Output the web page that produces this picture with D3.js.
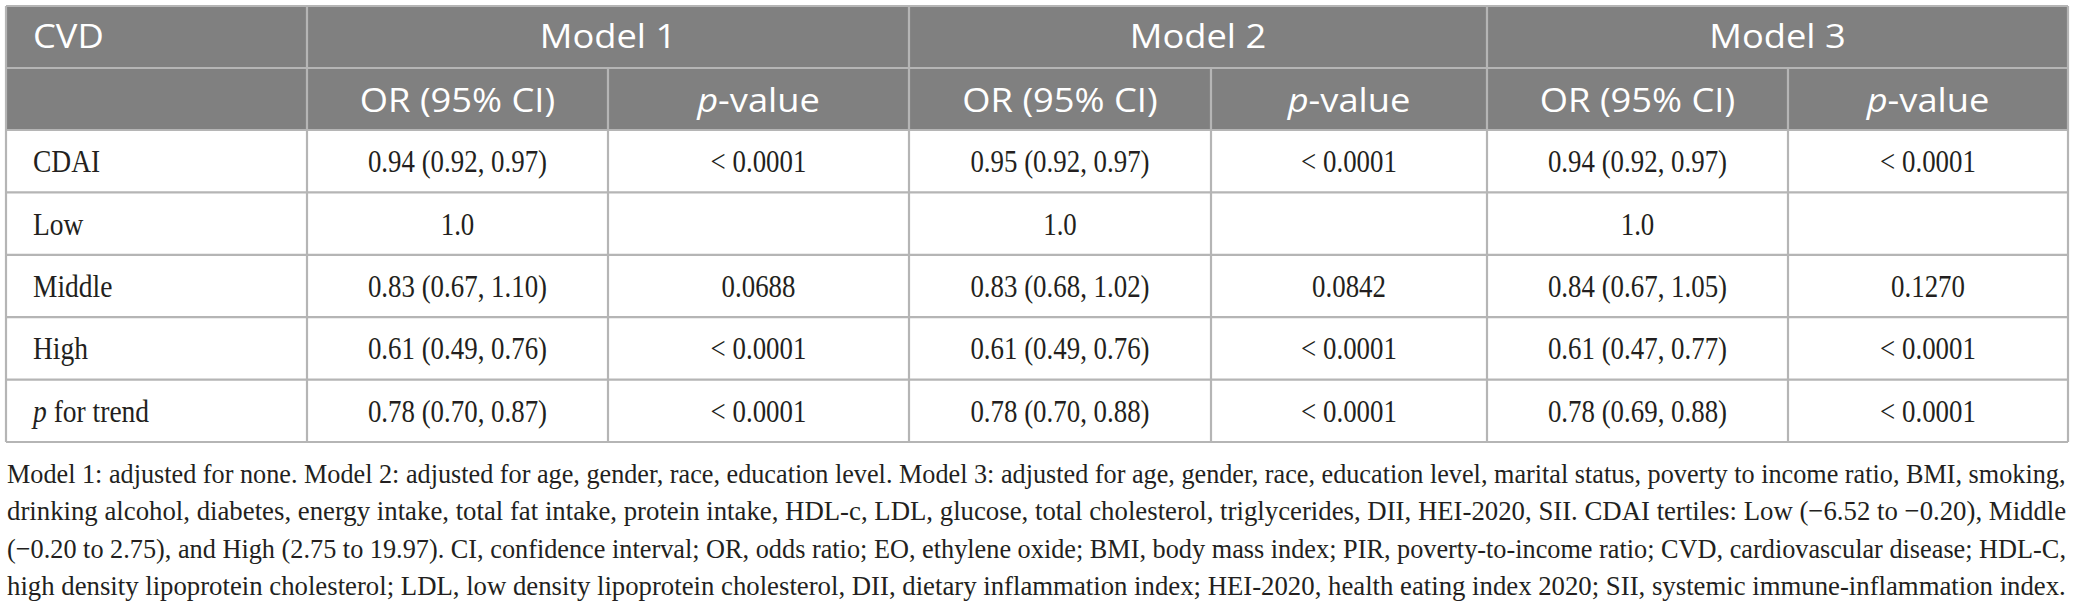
<!DOCTYPE html>
<html>
<head>
<meta charset="utf-8">
<script src="https://cdn.jsdelivr.net/npm/d3@7"></script>
<style>
  body { margin: 0; background: #fff; }
</style>
</head>
<body>
<div id="chart"></div>
<script>
// ---- table content ----
const ROW_LABELS  = ["CDAI", "Low", "Middle", "High", "p for trend"];
const MODELS      = ["Model 1", "Model 2", "Model 3"];
const SUB_HEADERS = ["OR (95% CI)", "p-value"];

const OR_M1 = ["0.94 (0.92, 0.97)", "1.0", "0.83 (0.67, 1.10)", "0.61 (0.49, 0.76)", "0.78 (0.70, 0.87)"];
const P_M1  = ["< 0.0001", "", "0.0688", "< 0.0001", "< 0.0001"];
const OR_M2 = ["0.95 (0.92, 0.97)", "1.0", "0.83 (0.68, 1.02)", "0.61 (0.49, 0.76)", "0.78 (0.70, 0.88)"];
const P_M2  = ["< 0.0001", "", "0.0842", "< 0.0001", "< 0.0001"];
const OR_M3 = ["0.94 (0.92, 0.97)", "1.0", "0.84 (0.67, 1.05)", "0.61 (0.47, 0.77)", "0.78 (0.69, 0.88)"];
const P_M3  = ["< 0.0001", "", "0.1270", "< 0.0001", "< 0.0001"];

const FOOTNOTE = [
  "Model 1: adjusted for none. Model 2: adjusted for age, gender, race, education level. Model 3: adjusted for age, gender, race, education level, marital status, poverty to income ratio, BMI, smoking,",
  "drinking alcohol, diabetes, energy intake, total fat intake, protein intake, HDL-c, LDL, glucose, total cholesterol, triglycerides, DII, HEI-2020, SII. CDAI tertiles: Low (\u22126.52 to \u22120.20), Middle",
  "(\u22120.20 to 2.75), and High (2.75 to 19.97). CI, confidence interval; OR, odds ratio; EO, ethylene oxide; BMI, body mass index; PIR, poverty-to-income ratio; CVD, cardiovascular disease; HDL-C,",
  "high density lipoprotein cholesterol; LDL, low density lipoprotein cholesterol, DII, dietary inflammation index; HEI-2020, health eating index 2020; SII, systemic immune-inflammation index."
];

// ---- layout ----
const W = 2075, H = 608;
const LEFT = 6, RIGHT = 2068, TOP = 6;
// column edges: label | M1 OR | M1 p | M2 OR | M2 p | M3 OR | M3 p
const COL_EDGES = [LEFT, 307, 608, 909, 1211, 1487, 1788, RIGHT];
const HEAD1 = [TOP, 68], HEAD2 = [68, 130];
const BODY_BOTTOM = 442;

const HEAD_BG   = "#808080";
const LINE_COL  = "#b5b5b5";
const TEXT_COL  = "#231f20";
const SANS  = "'Open Sans', 'Noto Sans', sans-serif";
const SERIF = "'Liberation Serif', 'DejaVu Serif', serif";

const svg = d3.select("#chart").append("svg")
  .attr("width", W).attr("height", H)
  .attr("viewBox", `0 0 ${W} ${H}`);

// rows of the body through a band scale
const y = d3.scaleBand().domain(ROW_LABELS).range([HEAD2[1], BODY_BOTTOM]);
// columns through ordinal scales of their left / right edges
const colKeys = d3.range(7);
const xL = d3.scaleOrdinal().domain(colKeys).range(COL_EDGES.slice(0, 7));
const xR = d3.scaleOrdinal().domain(colKeys).range(COL_EDGES.slice(1));
const xMid = k => (xL(k) + xR(k)) / 2;

// header background
svg.append("rect")
  .attr("x", LEFT).attr("y", TOP)
  .attr("width", RIGHT - LEFT).attr("height", HEAD2[1] - TOP)
  .attr("fill", HEAD_BG);

// grid lines
const grid = svg.append("g").attr("stroke", LINE_COL).attr("stroke-width", 2.2);
const hLines = [TOP, HEAD1[1], HEAD2[1], ...ROW_LABELS.map(r => y(r) + y.bandwidth())];
grid.selectAll("line.h").data(hLines).join("line")
  .attr("class", "h")
  .attr("x1", LEFT).attr("x2", RIGHT)
  .attr("y1", d => d).attr("y2", d => d);
// full-height verticals: outer border and model group separators
grid.selectAll("line.vf").data([LEFT, COL_EDGES[1], COL_EDGES[3], COL_EDGES[5], RIGHT]).join("line")
  .attr("class", "vf")
  .attr("x1", d => d).attr("x2", d => d)
  .attr("y1", TOP).attr("y2", BODY_BOTTOM);
// OR / p separators start below the model row
grid.selectAll("line.vs").data([COL_EDGES[2], COL_EDGES[4], COL_EDGES[6]]).join("line")
  .attr("class", "vs")
  .attr("x1", d => d).attr("x2", d => d)
  .attr("y1", HEAD1[1]).attr("y2", BODY_BOTTOM);

// header text (sans, white, slightly wide)
const head = svg.append("g")
  .attr("font-family", SANS).attr("font-size", 33).attr("fill", "#fff");

function headText(x, yy, anchor) {
  return head.append("text")
    .attr("transform", `translate(${x},${yy}) scale(1.1,1)`)
    .attr("text-anchor", anchor);
}

headText(33, 48, "start").text("CVD");
MODELS.forEach((m, i) => {
  const cx = (xL(1 + 2 * i) + xR(2 + 2 * i)) / 2;
  headText(cx, 48, "middle").text(m);
});
MODELS.forEach((m, i) => {
  headText(xMid(1 + 2 * i), 112, "middle").text(SUB_HEADERS[0]);
  const t = headText(xMid(2 + 2 * i), 112, "middle");
  t.append("tspan").attr("font-style", "italic").text("p");
  t.append("tspan").text("-value");
});

// body text (serif, condensed)
const body = svg.append("g")
  .attr("font-family", SERIF).attr("font-size", 32).attr("fill", TEXT_COL);
const cols = [OR_M1, P_M1, OR_M2, P_M2, OR_M3, P_M3];
const rowBase = r => y(r) + y.bandwidth() / 2 + 11;

ROW_LABELS.forEach((r, ri) => {
  const lab = body.append("text")
    .attr("transform", `translate(33,${rowBase(r)}) scale(0.86,1)`);
  if (r.startsWith("p ")) {
    lab.append("tspan").attr("font-style", "italic").text("p");
    lab.append("tspan").text(r.slice(1));
  } else {
    lab.text(r);
  }
  cols.forEach((col, ci) => {
    if (!col[ri]) return;
    body.append("text")
      .attr("transform", `translate(${xMid(ci + 1)},${rowBase(r)}) scale(0.84,1)`)
      .attr("text-anchor", "middle")
      .text(col[ri]);
  });
});

// footnote: each line squeezed horizontally to the table width
const foot = svg.append("g")
  .attr("font-family", SERIF).attr("font-size", 28).attr("fill", TEXT_COL);
const footY = d3.scaleLinear().domain([0, FOOTNOTE.length - 1]).range([483, 595]);
const target = RIGHT - LEFT - 2;
foot.selectAll("text").data(FOOTNOTE).join("text")
  .text(d => d)
  .each(function (d, i) {
    const natural = this.getComputedTextLength();
    const k = target / natural;
    d3.select(this).attr("transform", `translate(${LEFT + 1},${footY(i)}) scale(${k},1)`);
  });
</script>
</body>
</html>
